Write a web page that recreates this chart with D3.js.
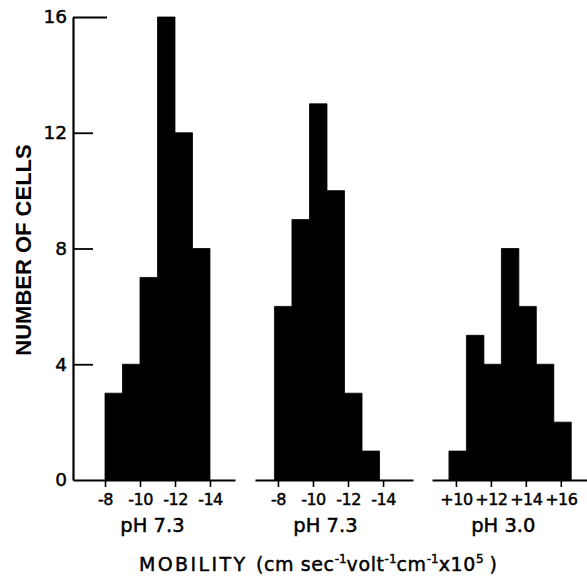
<!DOCTYPE html>
<html>
<head>
<meta charset="utf-8">
<script src="https://cdn.jsdelivr.net/npm/d3@7"></script>
<style>
  body { margin: 0; background: #fff; }
  svg { display: block; }
  .axis text { font-family: "DejaVu Sans", sans-serif; fill: #000; stroke: #000; stroke-width: 0.45; }
  .lbl { font-family: "DejaVu Sans", sans-serif; fill: #000; stroke: #000; stroke-width: 0.45; }
</style>
</head>
<body>
<svg id="chart" width="587" height="576"></svg>
<script>
// counts per bin, one array per histogram
var counts1 = [3, 4, 7, 16, 12, 8];
var counts2 = [6, 9, 13, 10, 3, 1];
var counts3 = [1, 5, 4, 8, 6, 4, 2];

// first bin edge (mobility units) and bin width
var start1 = -8, start2 = -7.8, start3 = 9.6;
var binWidth = 1;

var ticks1 = [-8, -10, -12, -14];
var ticks2 = [-8, -10, -12, -14];
var ticks3 = [10, 12, 14, 16];

var panelLabels = ["pH 7.3", "pH 7.3", "pH 3.0"];
var yTicks = [0, 4, 8, 12, 16];

var svg = d3.select("#chart");

var y = d3.scaleLinear()
    .domain([0, 16])
    .range([480, 17]);

// each panel has its own baseline
var panels = [
  { counts: counts1, start: start1, sign: -1, ticks: ticks1, label: panelLabels[0],
    x: d3.scaleLinear().domain([-6.17, -15.43]).range([73, 235]) },
  { counts: counts2, start: start2, sign: -1, ticks: ticks2, label: panelLabels[1],
    x: d3.scaleLinear().domain([-6.69, -15.71]).range([255, 413]) },
  { counts: counts3, start: start3, sign: 1, ticks: ticks3, label: panelLabels[2],
    x: d3.scaleLinear().domain([8.63, 17.5]).range([432, 587]) }
];

panels.forEach(function(p) {
  // bin edges with counts, last edge repeats the last count so the step closes
  var steps = p.counts.map(function(c, i) {
    return { edge: p.start + p.sign * i * binWidth, n: c };
  });
  steps.push({ edge: p.start + p.sign * p.counts.length * binWidth, n: p.counts[p.counts.length - 1] });

  var area = d3.area()
      .curve(d3.curveStepAfter)
      .x(function(d) { return p.x(d.edge); })
      .y0(y(0))
      .y1(function(d) { return y(d.n); });

  svg.append("path")
      .datum(steps)
      .attr("d", area)
      .attr("fill", "#000")
      .attr("stroke", "#000")
      .attr("stroke-width", 0.8);

  var ax = svg.append("g")
      .attr("class", "axis")
      .attr("transform", "translate(0," + y(0) + ")")
      .call(d3.axisBottom(p.x)
        .tickValues(p.ticks)
        .tickSize(7)
        .tickSizeOuter(0)
        .tickPadding(7)
        .tickFormat(function(d) { return d > 0 ? "+" + d : "-" + Math.abs(d); }));
  ax.select(".domain").attr("stroke-width", 2);
  ax.selectAll(".tick line").attr("stroke-width", 1.6);
  ax.selectAll(".tick text")
      .attr("font-size", 16)
      .attr("letter-spacing", -0.5);

  var mid = (p.x(p.ticks[0]) + p.x(p.ticks[p.ticks.length - 1])) / 2;
  svg.append("text")
      .attr("class", "lbl")
      .attr("x", mid - 5)
      .attr("y", 532)
      .attr("text-anchor", "middle")
      .attr("font-size", 19.5)
      .text(p.label);
});

// y axis, ticks pointing inward
var yax = svg.append("g")
    .attr("class", "axis")
    .attr("transform", "translate(73,0)")
    .call(d3.axisLeft(y)
      .tickValues(yTicks)
      .tickSize(-20)
      .tickSizeOuter(0)
      .tickPadding(6));
yax.select(".domain").attr("stroke-width", 2.2);
yax.selectAll(".tick line")
    .attr("stroke-width", 1.8)
    .attr("x2", function(d) { return d == 16 ? 34 : 20; })
    .attr("display", function(d) { return d == 0 ? "none" : null; });
yax.selectAll(".tick text").attr("font-size", 18.5);

svg.append("text")
    .attr("transform", "translate(31,250) rotate(-90)")
    .attr("text-anchor", "middle")
    .attr("font-family", "Liberation Sans, sans-serif")
    .attr("font-weight", "bold")
    .attr("font-size", 22)
    .text("NUMBER OF CELLS");

var title = svg.append("text")
    .attr("class", "lbl")
    .attr("x", 318)
    .attr("y", 571)
    .attr("text-anchor", "middle")
    .attr("font-size", 19);
title.append("tspan").attr("letter-spacing", 2.4).text("MOBILITY ");
title.append("tspan").attr("letter-spacing", 0.6).text("(cm sec");
title.append("tspan").attr("dy", -8).attr("font-size", 12).text("-1");
title.append("tspan").attr("dy", 8).attr("letter-spacing", 0.6).text("volt");
title.append("tspan").attr("dy", -8).attr("font-size", 12).text("-1");
title.append("tspan").attr("dy", 8).attr("letter-spacing", 0.6).text("cm");
title.append("tspan").attr("dy", -8).attr("font-size", 12).text("-1");
title.append("tspan").attr("dy", 8).attr("letter-spacing", 0.6).text("x10");
title.append("tspan").attr("dy", -8).attr("font-size", 12).text("5");
title.append("tspan").attr("dy", 8).text(" )");
</script>
</body>
</html>
